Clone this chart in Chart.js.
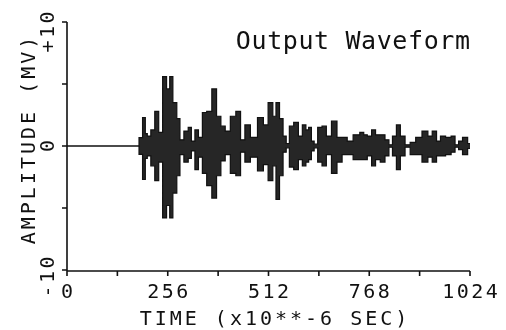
<!DOCTYPE html>
<html>
<head>
<meta charset="utf-8">
<script src="https://cdn.jsdelivr.net/npm/chart.js@4.4.0/dist/chart.umd.min.js"></script>
<style>
    html, body { margin: 0; padding: 0; background: #fff; }
    #wrap { width: 506px; height: 330px; }
</style>
</head>
<body>
<div id="wrap"><canvas id="waveChart" width="506" height="330"></canvas></div>
<script>
// Envelope of the output waveform.
// Segment i runs from segEdgesUs[i] to segEdgesUs[i + 1] (microseconds), amplitudes in MV.
const segEdgesUs = [0, 183, 192, 199, 204, 213, 223, 233, 243, 253,
    261, 269, 279, 287, 297, 308, 316, 325, 334, 344,
    355, 368, 380, 391, 402, 415, 429, 441, 452, 466,
    484, 499, 511, 523, 531, 540, 549, 557, 565, 576,
    588, 598, 607, 614, 621, 628, 637, 648, 659, 672,
    686, 699, 712, 727, 744, 754, 763, 774, 784, 796,
    808, 818, 827, 837, 847, 859, 872, 886, 902, 917,
    928, 939, 949, 962, 976, 986, 995, 1005, 1018, 1024];
const upperMV = [0, 0.67, 2.3, 1.0, 0.8, 1.3, 2.8, 1.1, 5.6, 4.6,
    5.6, 3.5, 2.2, 0.5, 1.2, 1.5, 0.4, 1.3, 0.7, 2.7,
    2.8, 4.6, 2.4, 1.6, 1.2, 2.4, 2.8, 0.5, 1.7, 0.7,
    2.3, 1.7, 3.5, 2.4, 3.5, 2.2, 0.8, 0.2, 1.6, 1.9,
    0.8, 1.7, 1.3, 1.5, 0.4, 0.15, 1.5, 1.6, 0.8, 2.0,
    0.7, 0.7, 0.4, 0.9, 1.1, 0.9, 0.8, 1.3, 0.9, 0.9,
    0.5, 0.1, 0.8, 1.7, 0.8, 0.1, 0.3, 0.7, 1.2, 0.8,
    1.2, 0.4, 0.8, 0.7, 0.8, 0.1, 0.4, 0.7, 0.2];
const lowerMV = [0, -0.67, -2.7, -1.0, -0.8, -1.6, -2.8, -1.3, -5.8, -4.8,
    -5.8, -3.8, -2.4, -0.7, -1.3, -1.0, -0.4, -1.9, -0.9, -2.2,
    -3.2, -4.2, -2.4, -1.2, -0.7, -2.2, -2.4, -0.5, -1.3, -0.9,
    -2.0, -1.5, -2.8, -1.6, -4.3, -2.4, -0.5, -0.15, -1.7, -1.9,
    -1.1, -1.6, -1.3, -1.1, -0.4, -0.15, -1.3, -1.6, -0.7, -2.2,
    -1.3, -0.7, -0.7, -1.1, -1.1, -1.1, -0.8, -1.6, -1.1, -1.3,
    -0.8, -0.1, -0.8, -1.9, -0.8, -0.1, -0.7, -0.7, -1.3, -0.9,
    -1.3, -0.8, -0.8, -0.7, -0.5, -0.1, -0.3, -0.7, -0.2];

const xTickMarks = [0, 128, 256, 384, 512, 640, 768, 896, 1024];
const xTickLabels = [0, 256, 512, 768, 1024];
const yTickMarks = [-10, -5, 0, 5, 10];
const yLabelValues = [10, 0, -10];
const yLabelTexts = ['+10', '0', '-10'];

const ink = '#111';
const fillInk = '#262626';
const plotFont = '"DejaVu Sans Mono", "Liberation Mono", monospace';

// each segment becomes a flat run between its two edges
function toSegments(values) {
    const pts = [];
    values.forEach((v, i) => {
        pts.push({ x: segEdgesUs[i], y: v });
        pts.push({ x: segEdgesUs[i + 1], y: v });
    });
    return pts;
}

function spacedText(ctx, text, x, y, spacing) {
    if ('letterSpacing' in ctx) {
        ctx.letterSpacing = spacing + 'px';
        // letterSpacing adds trailing space too, nudge for centred text
        const shift = ctx.textAlign === 'center' ? spacing / 2 : (ctx.textAlign === 'right' ? spacing : 0);
        ctx.fillText(text, x + shift, y);
        ctx.letterSpacing = '0px';
    } else {
        ctx.fillText(text, x, y);
    }
}

// axes, ticks and labels drawn plotter style from the chart's own scales
const plotterAxes = {
    id: 'plotterAxes',
    afterDatasetsDraw(chart) {
        const { ctx, scales: { x, y } } = chart;
        const left = x.getPixelForValue(0);
        const right = x.getPixelForValue(1024);
        const top = y.getPixelForValue(10);
        const bottom = y.getPixelForValue(-10) + 1;

        ctx.save();
        ctx.strokeStyle = ink;
        ctx.lineWidth = 1.6;
        ctx.beginPath();
        ctx.moveTo(left, top);
        ctx.lineTo(left, bottom);
        ctx.lineTo(right, bottom);
        yTickMarks.forEach(v => {
            const py = y.getPixelForValue(v);
            ctx.moveTo(left - 5, py);
            ctx.lineTo(left, py);
        });
        xTickMarks.forEach(v => {
            const px = x.getPixelForValue(v);
            ctx.moveTo(px, bottom);
            ctx.lineTo(px, bottom + 5);
        });
        ctx.stroke();

        ctx.fillStyle = ink;
        ctx.font = '20px ' + plotFont;
        ctx.textAlign = 'center';
        ctx.textBaseline = 'alphabetic';
        xTickLabels.forEach(v => {
            spacedText(ctx, String(v), x.getPixelForValue(v), 298, 2.5);
        });
        spacedText(ctx, 'TIME (x10**-6 SEC)', (left + right) / 2 + 5, 325, 3);

        const yShift = [10, 0, 7];
        yLabelValues.forEach((v, i) => {
            ctx.save();
            ctx.translate(54, y.getPixelForValue(v) + yShift[i]);
            ctx.rotate(-Math.PI / 2);
            spacedText(ctx, yLabelTexts[i], 0, 0, 2.5);
            ctx.restore();
        });

        ctx.save();
        ctx.translate(35, (top + bottom) / 2 - 6);
        ctx.rotate(-Math.PI / 2);
        spacedText(ctx, 'AMPLITUDE (MV)', 0, 0, 3);
        ctx.restore();

        ctx.font = '25px ' + plotFont;
        ctx.textAlign = 'right';
        spacedText(ctx, 'Output Waveform', right, 49, 0.6);
        ctx.restore();
    }
};

const waveChart = new Chart(document.getElementById('waveChart'), {
    type: 'line',
    data: {
        datasets: [
            {
                label: 'upper',
                data: toSegments(upperMV),
                fill: 'origin',
                borderColor: ink,
                backgroundColor: fillInk,
                borderWidth: 1.2,
                pointRadius: 0
            },
            {
                label: 'lower',
                data: toSegments(lowerMV),
                fill: 'origin',
                borderColor: ink,
                backgroundColor: fillInk,
                borderWidth: 1.2,
                pointRadius: 0
            }
        ]
    },
    options: {
        responsive: false,
        animation: false,
        devicePixelRatio: 1,
        layout: { padding: { left: 67, right: 36, top: 22, bottom: 60 } },
        plugins: { legend: { display: false }, tooltip: { enabled: false } },
        scales: {
            x: { type: 'linear', min: 0, max: 1024, display: false },
            y: { type: 'linear', min: -10, max: 10, display: false }
        }
    },
    plugins: [plotterAxes]
});
</script>
</body>
</html>
